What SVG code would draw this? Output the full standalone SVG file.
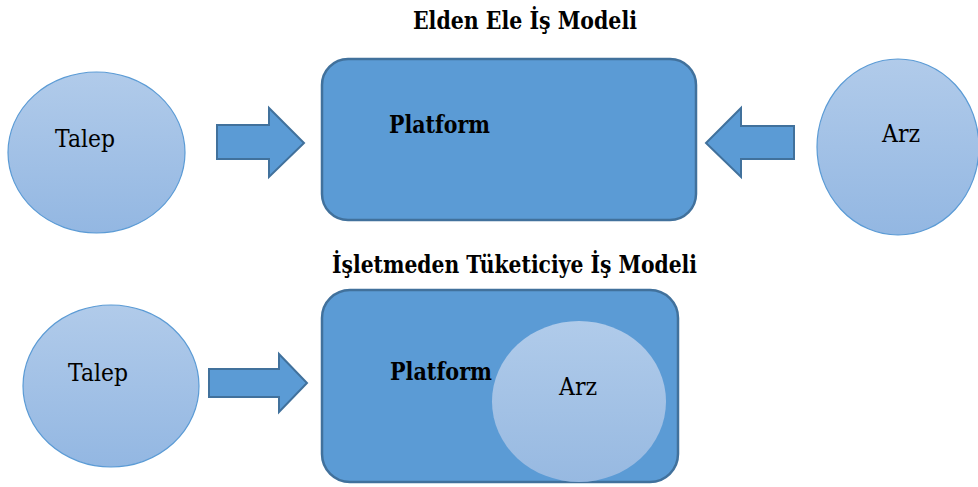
<svg xmlns="http://www.w3.org/2000/svg" width="978" height="487" viewBox="0 0 978 487">
<defs>
<linearGradient id="cg" x1="0" y1="0" x2="0" y2="1">
<stop offset="0" stop-color="#b1cbea"/>
<stop offset="1" stop-color="#93b7e2"/>
</linearGradient>
<linearGradient id="ig" x1="0" y1="0" x2="0" y2="1">
<stop offset="0" stop-color="#b0cbea"/>
<stop offset="1" stop-color="#97b9e1"/>
</linearGradient>
<style>
.circ{fill:url(#cg);stroke:#5b9bd5;stroke-width:1.2}
.plat{fill:#5b9bd5;stroke:#41719c;stroke-width:2.5}
.arr{fill:#5b9bd5;stroke:#41719c;stroke-width:2}
.t{font-size:24px;fill:#000}
.b{font-weight:bold}
</style>
</defs>
<rect width="978" height="487" fill="#fff"/>
<g font-family="'DejaVu Serif', 'Liberation Serif', serif">
<text class="t b" x="413" y="29" textLength="224" lengthAdjust="spacingAndGlyphs">Elden Ele İş Modeli</text>
<text class="t b" x="332" y="273" textLength="365" lengthAdjust="spacingAndGlyphs">İşletmeden Tüketiciye İş Modeli</text>
<g id="talep1">
<ellipse class="circ" cx="96.5" cy="152.5" rx="88.5" ry="80.5"/>
<text class="t" x="55" y="147" textLength="60" lengthAdjust="spacingAndGlyphs">Talep</text>
</g>
<g id="platform1">
<rect class="plat" x="322" y="59" width="374" height="161" rx="26"/>
<text class="t b" x="389" y="133" textLength="101" lengthAdjust="spacingAndGlyphs">Platform</text>
</g>
<g id="arz1">
<ellipse class="circ" cx="898" cy="147" rx="81" ry="88"/>
<text class="t" x="882" y="142" textLength="38" lengthAdjust="spacingAndGlyphs">Arz</text>
</g>
<g id="talep2">
<ellipse class="circ" cx="111" cy="386" rx="88" ry="81"/>
<text class="t" x="68" y="381" textLength="60" lengthAdjust="spacingAndGlyphs">Talep</text>
</g>
<g id="platform2">
<rect class="plat" x="322" y="290" width="356" height="192" rx="28"/>
<text class="t b" x="390" y="380" textLength="102" lengthAdjust="spacingAndGlyphs">Platform</text>
<ellipse cx="579" cy="401.5" rx="87" ry="80.5" fill="url(#ig)"/>
<text class="t" x="559" y="395" textLength="38" lengthAdjust="spacingAndGlyphs">Arz</text>
</g>
</g>
<g id="connectors">
<path class="arr" d="M217,125 H269 V108 L304,143 L269,177 V159 H217 Z"/>
<path class="arr" d="M794,126 H741 V108 L706,143 L741,177 V159 H794 Z"/>
<path class="arr" d="M209,369 H279 V354 L307,383 L279,412 V397 H209 Z"/>
</g>
</svg>
